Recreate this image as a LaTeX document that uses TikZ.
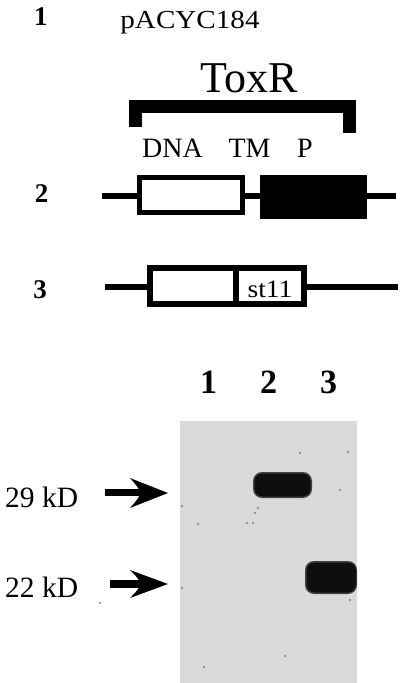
\documentclass[tikz,border=0pt]{standalone}
\usepackage{fontspec}
\setmainfont{Liberation Serif}
\usetikzlibrary{calc}
\definecolor{gelgray}{RGB}{218,218,218}
\definecolor{band}{RGB}{14,14,14}
\tikzset{
  rowlabel/.style={anchor=base, inner sep=0pt, font=\fontsize{27}{29}\selectfont\bfseries},
  lanelabel/.style={anchor=base, inner sep=0pt, font=\fontsize{34}{36}\selectfont\bfseries},
  domlabel/.style={anchor=base, inner sep=0pt, font=\fontsize{28}{30}\selectfont},
  kdlabel/.style={anchor=base west, inner sep=0pt, font=\fontsize{29.5}{31}\selectfont},
  dnaline/.style={line width=6.5pt, line cap=butt},
  boxline/.style={line width=5pt, fill=white},
  shaft/.style={line width=7.5pt, line cap=butt},
  head/.style={fill=black, draw=none},
  speck/.style={fill=black!70, draw=none},
}
\begin{document}
\begin{tikzpicture}[x=1pt,y=-1pt]
\useasboundingbox (0,0) rectangle (400,683);
% --- construct 1 ---
\node[rowlabel] (n1) at (41,25) {1};
\node[anchor=base, inner sep=0pt, font=\fontsize{26}{28}\selectfont] (pacyc) at (190,28) {\scalebox{1.12}[1]{pACYC184}};
\node[anchor=base, inner sep=0pt, font=\fontsize{44}{46}\selectfont] (toxr) at (249,92) {ToxR};
\draw[line width=13pt, line join=miter, line cap=butt] (135.5,127) -- (135.5,106) -- (349.5,106) -- (349.5,133);
\node[domlabel] (dna) at (172.5,157) {DNA};
\node[domlabel] (tm) at (249.5,157) {TM};
\node[domlabel] (p) at (305,157) {P};
% --- construct 2 ---
\node[rowlabel] (n2) at (41.5,202) {2};
\coordinate (l2a) at (102,196);
\coordinate (l2b) at (396,196);
\draw[dnaline] (l2a) -- (l2b);
\draw[boxline] (139.5,177.5) rectangle (242.5,212.5);
\fill (260,175) rectangle (367,219);
% --- construct 3 ---
\node[rowlabel] (n3) at (40,298) {3};
\coordinate (l3a) at (105,287);
\coordinate (l3b) at (398,287);
\draw[dnaline] (l3a) -- (l3b);
\draw[line width=6pt, fill=white] (150,268) rectangle (304,304);
\draw[line width=6pt] (236,268) -- (236,304);
\node[anchor=base, inner sep=0pt, font=\fontsize{25}{27}\selectfont] (st) at (270,297) {\scalebox{1.1}[1]{st11}};
% --- gel ---
\node[lanelabel] (g1) at (208.5,393) {1};
\node[lanelabel] (g2) at (268.5,393) {2};
\node[lanelabel] (g3) at (328.5,393) {3};
\fill[gelgray] (180,421) rectangle (357,683);
% bands
\fill[band!75!gelgray, rounded corners=9pt] (253,472) rectangle (312,498);
\fill[band, rounded corners=8pt] (254.5,473.5) rectangle (310.5,496.5);
\fill[band!75!gelgray, rounded corners=9pt] (305,561) rectangle (357,594);
\fill[band, rounded corners=8pt] (306.5,562.5) rectangle (356,592.5);
% specks
\foreach \p in {(300,453),(258,508),(255,513),(247,523),(253,523),(182,506),(198,524),(348,452),(340,490),(182,588),(204,667),(285,656),(350,600),(100,603)}
  \fill[speck] \p circle (0.8pt);
% markers
\node[kdlabel] (k29) at (5,507) {29 kD};
\node[kdlabel] (k22) at (5,597) {22 kD};
\coordinate (a1s) at (105,492.5);
\coordinate (a1e) at (143,492.5);
\draw[shaft] (a1s) -- (a1e);
\fill[head] (168,493) -- (130,478) .. controls (137,486) .. (141,493) .. controls (137,500) .. (130,508) -- cycle;
\coordinate (a2s) at (110,584);
\coordinate (a2e) at (143,584);
\draw[shaft] (a2s) -- (a2e);
\fill[head] (168,584) -- (130,570) .. controls (137,577) .. (141,584) .. controls (137,591) .. (130,598) -- cycle;
\end{tikzpicture}
\end{document}
